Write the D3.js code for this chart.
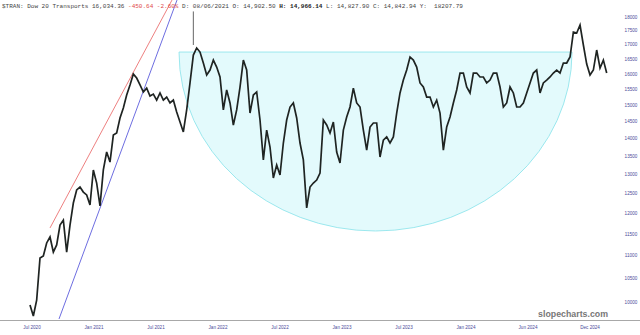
<!DOCTYPE html>
<html>
<head>
<meta charset="utf-8">
<script src="https://cdn.jsdelivr.net/npm/d3@7"></script>
<style>
  body { margin: 0; background: #fff; }
  svg { display: block; }
</style>
</head>
<body>
<div class="canvas"></div>
<script>
// closes, one per (decimated) bar
const closes = [
  9940, 9715, 10040, 10950, 10995, 11295, 11435, 11085, 11250, 11720,
  11840, 11085, 11720, 12265, 12600, 12675, 12545, 12470, 12215, 13130,
  12780, 12190, 13130, 13625, 13345, 14110, 14170, 14615, 14920, 15325,
  15645, 16000, 15870, 15645, 15420, 15545, 15295, 15355, 15165, 15390,
  15165, 15260, 15075, 15165, 14795, 14495, 14200, 14860, 15710, 16640,
  16885, 16745, 16370, 15970, 16135, 16470, 16235, 15905, 14860, 15485,
  15075, 14405, 14860, 15580, 16470, 16135, 14765, 15325, 15420, 14555,
  13405, 14255, 13765, 12915, 13265, 12995, 13880, 14555, 14950, 15075,
  14615, 13880, 13405, 12140, 12675, 12780, 12860, 13045, 14555, 14405,
  14170, 14495, 13625, 13320, 14255, 14645, 14950, 15545, 15075, 14950,
  14255, 13680, 14345, 14465, 14465, 13485, 13965, 14055, 13880, 14055,
  14765, 15390, 15805, 16135, 16575, 16470, 16235, 15710, 15580, 15260,
  15260, 14950, 15165, 14765, 13680, 14345, 14645, 15075, 15485, 16035,
  16035, 15580, 15390, 16035, 16035, 15905, 15905, 15710, 15805, 16035,
  16035, 15580, 14950, 15075, 15580, 15390, 14950, 14950, 15075, 15390,
  15710, 16035, 16135, 15390, 15710, 15805, 15905, 16035, 16135, 16035,
  16370, 16370, 16575, 17450, 17415, 17705, 16990, 16335, 15970, 16135,
  16815, 16200, 16470, 16034
]

// the one long wick
const spikeBar = 49
const spikeHigh = 18208
const spikeLow = 16990

// trend lines [bar, price]
const redLine = [[6, 11650], [42.6, 18640]]
const blueLine = [[8.7, 9656], [44.1, 18640]]

// cup (half ellipse)
const cupStart = 44.7
const cupEnd = 162.6
const cupTop = 16745
const cupBottom = 11577

const xTickBars = [0.6, 19.2, 37.8, 56.4, 75, 93.6, 112.2, 130.8, 149.4, 168]
const xTickLabels = ['Jul 2020', 'Jan 2021', 'Jul 2021', 'Jan 2022', 'Jul 2022',
  'Jan 2023', 'Jul 2023', 'Jan 2024', 'Jun 2024', 'Dec 2024']
const yTicks = [10000, 10500, 11000, 11500, 12000, 12500, 13000, 13500, 14000,
  14500, 15000, 15500, 16000, 16500, 17000, 17500, 18000]

const width = 640
const height = 335

const svg = d3.select('.canvas')
    .append('svg')
    .attr('width', width)
    .attr('height', height)

// scales
const x = d3.scaleLinear()
    .domain([0, closes.length - 1])
    .range([30, 606.7])

const y = d3.scaleLog()
    .domain([10000, 18000])
    .range([302, 17])

const plot = svg.append('g')

// clip to plot area
svg.append('clipPath').attr('id', 'clip')
    .append('rect').attr('x', 0).attr('y', 0).attr('width', 612).attr('height', 320)

// cup
const cx0 = x(cupStart), cx1 = x(cupEnd)
const rx = (cx1 - cx0) / 2
const ty = y(cupTop)
const ry = y(cupBottom) - ty
plot.append('path')
    .attr('d', `M${cx0},${ty} A${rx},${ry} 0 0 0 ${cx1},${ty} Z`)
    .attr('fill', '#e3fafc')
    .attr('stroke', '#86e2ea')
    .attr('stroke-width', 0.8)

// trend lines
const tl = plot.append('g').attr('clip-path', 'url(#clip)')
tl.append('line')
    .attr('x1', x(redLine[0][0])).attr('y1', y(redLine[0][1]))
    .attr('x2', x(redLine[1][0])).attr('y2', y(redLine[1][1]))
    .attr('stroke', '#e86060')
    .attr('stroke-width', 0.8)
tl.append('line')
    .attr('x1', x(blueLine[0][0])).attr('y1', y(blueLine[0][1]))
    .attr('x2', x(blueLine[1][0])).attr('y2', y(blueLine[1][1]))
    .attr('stroke', '#4848d8')
    .attr('stroke-width', 0.8)

// wick
plot.append('line')
    .attr('x1', x(spikeBar)).attr('x2', x(spikeBar))
    .attr('y1', y(spikeHigh)).attr('y2', y(spikeLow))
    .attr('stroke', '#666')
    .attr('stroke-width', 1)

// price
const line = d3.line()
    .x((d, i) => x(i))
    .y(d => y(d))

plot.append('path')
    .datum(closes)
    .attr('d', line)
    .attr('fill', 'none')
    .attr('stroke', '#1f2422')
    .attr('stroke-width', 1.7)
    .attr('stroke-linejoin', 'miter')

// x axis
svg.append('line')
    .attr('x1', 0).attr('x2', width)
    .attr('y1', 320.5).attr('y2', 320.5)
    .attr('stroke', '#a8a8a8')
    .attr('stroke-width', 1)

svg.append('g')
    .selectAll('text')
    .data(xTickBars)
    .enter()
    .append('text')
    .attr('x', d => x(d))
    .attr('y', 328.5)
    .attr('text-anchor', 'middle')
    .attr('font-family', 'Liberation Sans, Arial, sans-serif')
    .attr('font-size', 4.6)
    .attr('fill', '#4a4a9a')
    .text((d, i) => xTickLabels[i])

// y axis labels
svg.append('g')
    .selectAll('text')
    .data(yTicks)
    .enter()
    .append('text')
    .attr('x', 631)
    .attr('y', d => y(d) + 1.6)
    .attr('text-anchor', 'middle')
    .attr('font-family', 'Liberation Sans, Arial, sans-serif')
    .attr('font-size', 4.6)
    .attr('fill', '#4a4a9a')
    .text(d => d)

// watermark
svg.append('text')
    .attr('x', 608)
    .attr('y', 317)
    .attr('text-anchor', 'end')
    .attr('font-family', 'Liberation Sans, Arial, sans-serif')
    .attr('font-weight', 'bold')
    .attr('font-size', 8.8)
    .attr('fill', '#777')
    .text('slopecharts.com')

// header
const header = svg.append('text')
    .attr('x', 2)
    .attr('y', 7.5)
    .attr('font-family', 'Liberation Mono, DejaVu Sans Mono, monospace')
    .attr('font-size', 6)
    .attr('fill', '#444')
    .attr('xml:space', 'preserve')
header.append('tspan').text('$TRAN: Dow 20 Transports 16,034.36 ')
header.append('tspan').attr('fill', '#e04848').text('-450.64 -2.60% ')
header.append('tspan').text('D: 08/06/2021 O: 14,902.50 ')
header.append('tspan').attr('font-weight', 'bold').attr('fill', '#222').text('H: 14,966.14')
header.append('tspan').text(' L: 14,827.90 C: 14,842.94 Y:  18207.79')
</script>
</body>
</html>
